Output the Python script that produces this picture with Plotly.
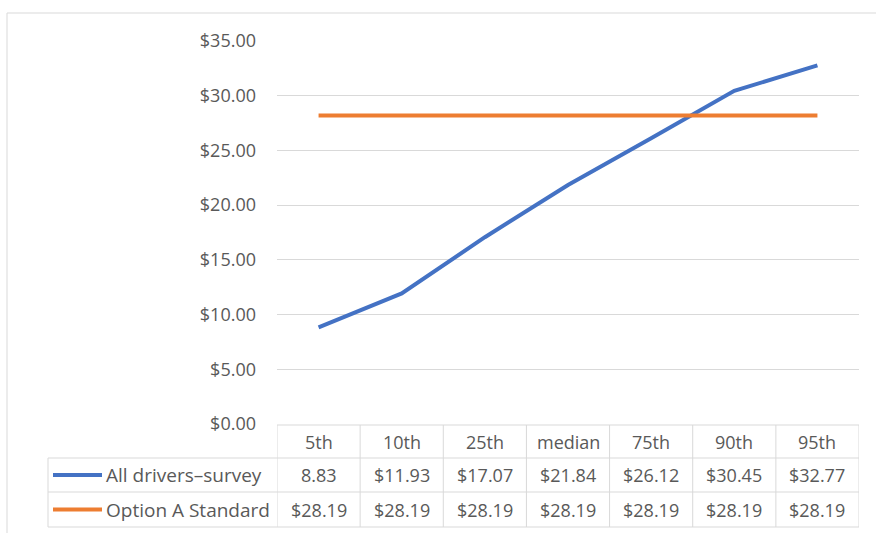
import plotly.graph_objects as go

W, H = 876, 533

categories = ["5th", "10th", "25th", "median", "75th", "90th", "95th"]
survey_name = "All drivers\u2013survey"
standard_name = "Option A Standard"
survey_values = [8.83, 11.93, 17.07, 21.84, 26.12, 30.45, 32.77]
standard_values = [28.19, 28.19, 28.19, 28.19, 28.19, 28.19, 28.19]
survey_table_text = ["8.83", "$11.93", "$17.07", "$21.84", "$26.12", "$30.45", "$32.77"]
standard_table_text = ["$28.19"] * 7
y_ticks = [0, 5, 10, 15, 20, 25, 30, 35]
y_tick_labels = ["$0.00", "$5.00", "$10.00", "$15.00", "$20.00", "$25.00", "$30.00", "$35.00"]

BLUE = "#4472C4"
ORANGE = "#ED7D31"
GRID = "#d9d9d9"
TXT = "#595959"
FONT = "Open Sans"
FS = 18


def px(x):
    return x / W


def py(y):
    return 1 - y / H


fig = go.Figure()
fig.add_trace(go.Scatter(x=categories, y=survey_values, mode="lines", name=survey_name,
                         line=dict(color=BLUE, width=4)))
fig.add_trace(go.Scatter(x=categories, y=standard_values, mode="lines", name=standard_name,
                         line=dict(color=ORANGE, width=4)))

shapes = []
line_style = dict(color=GRID, width=1)
# chart border
shapes.append(dict(type="line", xref="paper", yref="paper", x0=px(7), x1=px(876), y0=py(13), y1=py(13), line=line_style))
shapes.append(dict(type="line", xref="paper", yref="paper", x0=px(7), x1=px(7), y0=py(13), y1=py(533), line=line_style))

# data table grid
n = len(categories)
row_top, row1, row2, row_bot = 425, 458, 492, 527
shapes.append(dict(type="line", xref="x", yref="paper", x0=-0.5, x1=n - 0.5, y0=py(row_top), y1=py(row_top), line=line_style))
for yy in (row1, row2, row_bot):
    shapes.append(dict(type="line", xref="paper", yref="paper", x0=px(48), x1=px(859), y0=py(yy), y1=py(yy), line=line_style))
for i in range(n + 1):
    shapes.append(dict(type="line", xref="x", yref="paper", x0=i - 0.5, x1=i - 0.5, y0=py(row_top), y1=py(row_bot), line=line_style))
shapes.append(dict(type="line", xref="paper", yref="paper", x0=px(48), x1=px(48), y0=py(row1), y1=py(row_bot), line=line_style))

# legend keys inside the table
for yy, col in (((row1 + row2) / 2, BLUE), ((row2 + row_bot) / 2, ORANGE)):
    shapes.append(dict(type="line", xref="paper", yref="paper", x0=px(53), x1=px(102), y0=py(yy), y1=py(yy),
                       line=dict(color=col, width=4)))

annotations = []
font = dict(family=FONT, size=FS, color=TXT)
label_font = dict(family=FONT, size=19, color=TXT)
for i, c in enumerate(categories):
    annotations.append(dict(x=c, y=py((row_top + row1) / 2), xref="x", yref="paper", text=c, showarrow=False,
                            font=font, xanchor="center", yanchor="middle"))
    annotations.append(dict(x=c, y=py((row1 + row2) / 2), xref="x", yref="paper", text=survey_table_text[i],
                            showarrow=False, font=font, xanchor="center", yanchor="middle"))
    annotations.append(dict(x=c, y=py((row2 + row_bot) / 2), xref="x", yref="paper", text=standard_table_text[i],
                            showarrow=False, font=font, xanchor="center", yanchor="middle"))
annotations.append(dict(x=px(104), y=py((row1 + row2) / 2), xref="paper", yref="paper", text=survey_name,
                        showarrow=False, font=label_font, xanchor="left", yanchor="middle"))
annotations.append(dict(x=px(104), y=py((row2 + row_bot) / 2), xref="paper", yref="paper", text=standard_name,
                        showarrow=False, font=label_font, xanchor="left", yanchor="middle"))

fig.update_layout(
    width=W, height=H,
    margin=dict(l=0, r=0, t=0, b=0, pad=0, autoexpand=False),
    paper_bgcolor="white", plot_bgcolor="white",
    showlegend=False,
    shapes=shapes,
    annotations=annotations,
    font=dict(family=FONT, size=FS, color=TXT),
    xaxis=dict(domain=[px(277), px(859)], range=[-0.5, n - 0.5], showticklabels=False, showgrid=False,
               zeroline=False, showline=False, ticks="", fixedrange=True, automargin=False),
    yaxis=dict(domain=[py(424), py(41)], range=[0, 35], tickvals=y_ticks, ticktext=y_tick_labels,
               showgrid=True, gridcolor=GRID, gridwidth=1, zeroline=False, showline=False, ticks="",
               ticklabelstandoff=20, tickfont=dict(family=FONT, size=FS, color=TXT), fixedrange=True,
               automargin=False),
)

post = (
    "var d=document.getElementById('{plot_id}');"
    "d.style.position='fixed';d.style.top='0px';d.style.left='0px';"
    "document.body.style.margin='0';document.body.style.overflow='hidden';"
    "document.documentElement.style.overflow='hidden';"
)

fig.write_html("out.html", config={"displayModeBar": False}, post_script=post)
